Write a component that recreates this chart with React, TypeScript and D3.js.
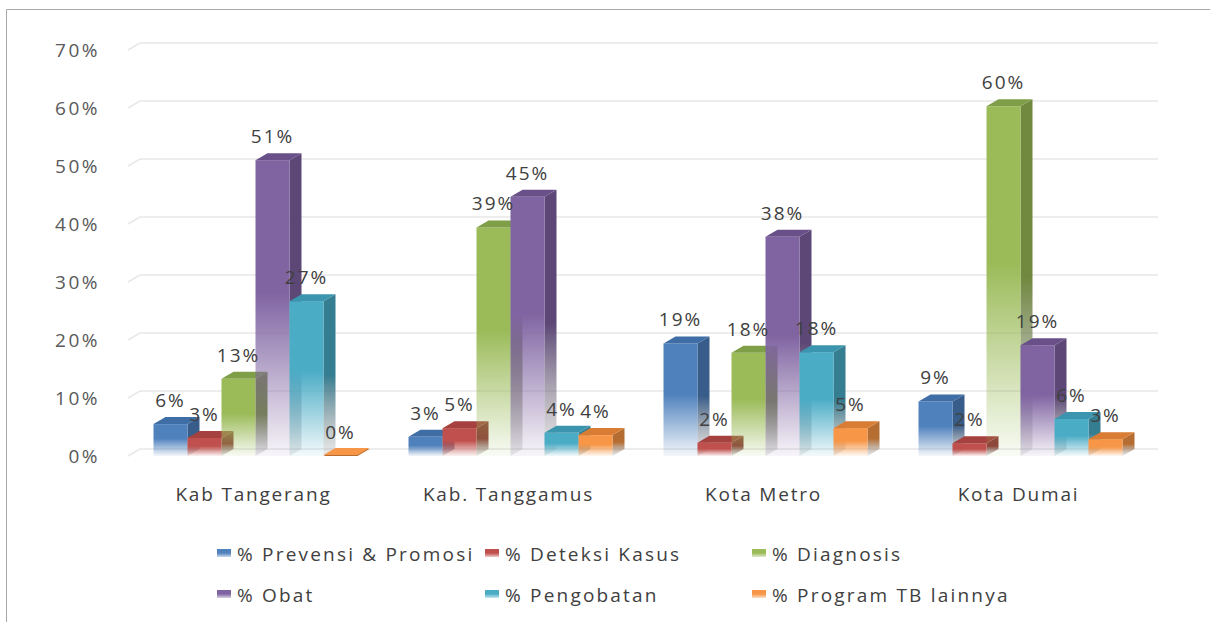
import React from "react";
import * as d3 from "d3";

const categories = ["Kab Tangerang", "Kab. Tanggamus", "Kota Metro", "Kota Dumai"];
const seriesNames = [
  "% Prevensi & Promosi",
  "% Deteksi Kasus",
  "% Diagnosis",
  "% Obat",
  "% Pengobatan",
  "% Program TB lainnya",
];
// values in percent
const prevensi = [5.5, 3.3, 19.4, 9.4];
const deteksi = [3.1, 4.8, 2.3, 2.2];
const diagnosis = [13.3, 39.4, 17.8, 60.3];
const obat = [51, 44.7, 37.8, 19.1];
const pengobatan = [26.7, 4.0, 17.9, 6.4];
const programLain = [0, 3.6, 4.8, 2.9];
const yTicks = [0, 10, 20, 30, 40, 50, 60, 70];

const seriesValues = [prevensi, deteksi, diagnosis, obat, pengobatan, programLain];
const frontColors = ["#4F81BD", "#C0504D", "#9BBB59", "#8064A2", "#4BACC6", "#F79646"];
const sideColors = ["#385D8A", "#8C3836", "#71893F", "#5C4776", "#357D91", "#B66D31"];
const topColors = ["#3F6DA5", "#A5413E", "#7F9E48", "#6A5089", "#3C95AE", "#D97D35"];

const W = 1210;
const H = 622;
const DX = 12;
const DY = 7;
const FONT = "'Open Sans', sans-serif";

export default function App() {
  const x = d3.scaleBand<string>().domain(categories).range([128, 1148]).paddingInner(0).paddingOuter(0);
  const y = d3.scaleLinear().domain([0, 70]).range([456, 50]);
  const y0 = y(0);
  const groupW = 204;
  const xs = d3
    .scaleBand<number>()
    .domain(d3.range(seriesNames.length))
    .range([0, groupW])
    .padding(0);
  const bw = xs.bandwidth();

  const bars: any[] = [];
  const labels: any[] = [];
  categories.forEach((c, ci) => {
    const gx = (x(c) as number) + x.bandwidth() / 2 - groupW / 2;
    seriesValues.forEach((vals, si) => {
      const v = vals[ci];
      const bx = gx + (xs(si) as number);
      const yt = y(v);
      const top = `M${bx},${yt}L${bx + DX},${yt - DY}L${bx + bw + DX},${yt - DY}L${bx + bw},${yt}Z`;
      const side = `M${bx + bw},${yt}L${bx + bw + DX},${yt - DY}L${bx + bw + DX},${y0 - DY}L${bx + bw},${y0}Z`;
      bars.push(
        <g key={`b-${ci}-${si}`}>
          {v > 0 && <path d={side} fill={`url(#side${si})`} />}
          {v > 0 && <rect x={bx} y={yt} width={bw} height={y0 - yt} fill={`url(#front${si})`} />}
          <path d={top} fill={v > 0 ? topColors[si] : sideColors[si]} />
          {v === 0 && <path d={top} fill={frontColors[si]} transform="translate(0,-1)" />}
        </g>
      );
      labels.push(
        <text
          key={`l-${ci}-${si}`}
          x={bx + bw / 2}
          y={yt - 17}
          textAnchor="middle"
          fontFamily={FONT}
          fontSize={19}
          letterSpacing={2}
          fill="#404040"
        >
          {`${Math.round(v)}%`}
        </text>
      );
    });
  });

  const legendCols = [217, 485, 752];
  const legendRows = [553, 594];

  return (
    <svg
      width={W}
      height={H}
      style={{ position: "absolute", left: 0, top: 0, background: "#fff" }}
    >
      <defs>
        {frontColors.map((c, i) => (
          <linearGradient key={`f${i}`} id={`front${i}`} x1="0" y1="0" x2="0" y2="1">
            <stop offset="0" stopColor={c} />
            <stop offset="0.45" stopColor={c} />
            <stop offset="1" stopColor={c} stopOpacity={0.06} />
          </linearGradient>
        ))}
        {sideColors.map((c, i) => (
          <linearGradient key={`s${i}`} id={`side${i}`} x1="0" y1="0" x2="0" y2="1">
            <stop offset="0" stopColor={c} />
            <stop offset="0.5" stopColor={c} />
            <stop offset="1" stopColor="#808080" stopOpacity={0.15} />
          </linearGradient>
        ))}
        {frontColors.map((c, i) => (
          <linearGradient key={`lg${i}`} id={`leg${i}`} x1="0" y1="0" x2="0" y2="1">
            <stop offset="0" stopColor={c} />
            <stop offset="0.5" stopColor={c} />
            <stop offset="1" stopColor={c} stopOpacity={0.3} />
          </linearGradient>
        ))}
      </defs>

      {/* frame */}
      <path d={`M6.5,${H}L6.5,9.5L${W},9.5`} fill="none" stroke="#a8a8a8" strokeWidth={1} />

      {/* gridlines */}
      {yTicks.map((t) => {
        const yy = y(t);
        return (
          <path
            key={`g${t}`}
            d={`M128,${yy}L${128 + DX},${yy - DY}L1158,${yy - DY}`}
            fill="none"
            stroke="#e8e8e8"
            strokeWidth={1.5}
          />
        );
      })}

      {/* y tick labels */}
      {yTicks.map((t) => (
        <text
          key={`t${t}`}
          x={100}
          y={y(t)}
          dy="0.35em"
          textAnchor="end"
          fontFamily={FONT}
          fontSize={19}
          letterSpacing={2.5}
          fill="#595959"
        >
          {`${t}%`}
        </text>
      ))}

      {bars}
      {labels}

      {/* category labels */}
      {categories.map((c) => (
        <text
          key={`c${c}`}
          x={(x(c) as number) + x.bandwidth() / 2 - 2}
          y={494}
          dy="0.35em"
          textAnchor="middle"
          fontFamily={FONT}
          fontSize={19}
          letterSpacing={1.8}
          fill="#404040"
        >
          {c}
        </text>
      ))}

      {/* legend */}
      {seriesNames.map((s, i) => {
        const lx = legendCols[i % 3];
        const ly = legendRows[Math.floor(i / 3)];
        return (
          <g key={`leg-${i}`}>
            <rect x={lx} y={ly - 4} width={14} height={8} fill={`url(#leg${i})`} />
            <text
              x={lx + 20}
              y={ly + 1}
              dy="0.35em"
              fontFamily={FONT}
              fontSize={19}
              letterSpacing={2.2}
              fill="#404040"
            >
              {s}
            </text>
          </g>
        );
      })}
    </svg>
  );
}
